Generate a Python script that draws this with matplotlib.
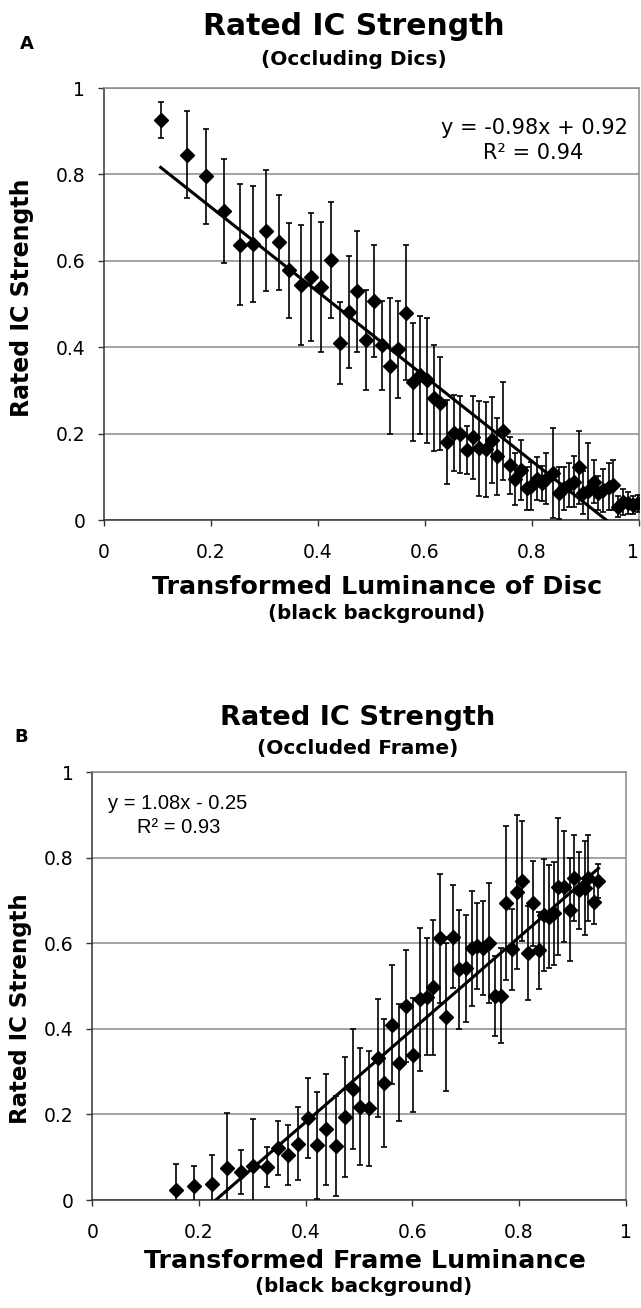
import numpy as np
import matplotlib
matplotlib.use("Agg")
import matplotlib.pyplot as plt

# panel A: occluding discs
xA = [0.106, 0.155, 0.191, 0.224, 0.254, 0.279, 0.303, 0.327, 0.346, 0.368,
      0.386, 0.405, 0.424, 0.442, 0.458, 0.473, 0.490, 0.505, 0.520, 0.535,
      0.550, 0.564, 0.577, 0.591, 0.604, 0.617, 0.628, 0.642, 0.655, 0.665,
      0.678, 0.690, 0.701, 0.714, 0.725, 0.735, 0.746, 0.758, 0.768, 0.779,
      0.790, 0.799, 0.809, 0.818, 0.827, 0.839, 0.850, 0.860, 0.870, 0.879,
      0.887, 0.896, 0.905, 0.915, 0.924, 0.933, 0.943, 0.951, 0.961, 0.971,
      0.980, 0.989, 0.999]
yA = [0.926, 0.846, 0.796, 0.716, 0.637, 0.639, 0.670, 0.643, 0.578, 0.544,
      0.562, 0.539, 0.602, 0.409, 0.481, 0.529, 0.417, 0.507, 0.405, 0.357,
      0.395, 0.480, 0.319, 0.336, 0.323, 0.282, 0.270, 0.181, 0.201, 0.198,
      0.162, 0.191, 0.166, 0.164, 0.185, 0.147, 0.206, 0.127, 0.094, 0.116,
      0.073, 0.079, 0.096, 0.085, 0.096, 0.108, 0.062, 0.073, 0.081, 0.089,
      0.122, 0.063, 0.068, 0.089, 0.062, 0.069, 0.077, 0.081, 0.031, 0.042,
      0.039, 0.035, 0.039]
eA = [0.042, 0.100, 0.110, 0.120, 0.140, 0.135, 0.140, 0.110, 0.110, 0.140,
      0.148, 0.150, 0.135, 0.095, 0.130, 0.140, 0.115, 0.130, 0.103, 0.158,
      0.113, 0.157, 0.136, 0.136, 0.144, 0.123, 0.107, 0.097, 0.088, 0.090,
      0.056, 0.096, 0.110, 0.110, 0.100, 0.090, 0.113, 0.066, 0.060, 0.070,
      0.050, 0.055, 0.050, 0.040, 0.060, 0.104, 0.060, 0.050, 0.050, 0.060,
      0.084, 0.050, 0.110, 0.050, 0.040, 0.050, 0.055, 0.058, 0.025, 0.030,
      0.025, 0.020, 0.020]

# panel B: occluded frame
xB = [0.156, 0.191, 0.224, 0.252, 0.279, 0.302, 0.327, 0.348, 0.367, 0.386,
      0.405, 0.422, 0.439, 0.457, 0.474, 0.489, 0.502, 0.519, 0.535, 0.547,
      0.561, 0.575, 0.589, 0.601, 0.614, 0.627, 0.639, 0.651, 0.664, 0.677,
      0.687, 0.700, 0.711, 0.722, 0.733, 0.743, 0.755, 0.766, 0.776, 0.787,
      0.796, 0.806, 0.817, 0.826, 0.837, 0.846, 0.856, 0.865, 0.874, 0.885,
      0.895, 0.904, 0.913, 0.923, 0.930, 0.940, 0.949]
yB = [0.023, 0.033, 0.037, 0.074, 0.066, 0.079, 0.078, 0.122, 0.105, 0.132,
      0.191, 0.128, 0.165, 0.126, 0.193, 0.259, 0.218, 0.214, 0.331, 0.273,
      0.410, 0.321, 0.453, 0.339, 0.469, 0.475, 0.497, 0.611, 0.428, 0.615,
      0.539, 0.541, 0.588, 0.593, 0.588, 0.600, 0.477, 0.477, 0.693, 0.586,
      0.720, 0.745, 0.578, 0.693, 0.584, 0.666, 0.662, 0.670, 0.732, 0.732,
      0.678, 0.752, 0.724, 0.728, 0.752, 0.696, 0.745]
eB = [0.060, 0.047, 0.067, 0.130, 0.051, 0.110, 0.047, 0.063, 0.070, 0.086,
      0.094, 0.125, 0.130, 0.117, 0.140, 0.140, 0.136, 0.135, 0.138, 0.150,
      0.138, 0.136, 0.131, 0.133, 0.167, 0.136, 0.158, 0.150, 0.173, 0.120,
      0.139, 0.126, 0.135, 0.100, 0.110, 0.140, 0.093, 0.111, 0.180, 0.095,
      0.180, 0.140, 0.110, 0.100, 0.090, 0.130, 0.120, 0.120, 0.160, 0.130,
      0.120, 0.100, 0.090, 0.110, 0.100, 0.050, 0.040]

fitA = (-0.98, 0.92)
fitB = (1.08, -0.25)
ticks = [0, 0.2, 0.4, 0.6, 0.8, 1]
tick_labels = ["0", "0.2", "0.4", "0.6", "0.8", "1"]

W, H = 641, 1308
fig = plt.figure(figsize=(W / 100, H / 100), dpi=100)


def px(x, y):
    return x / W, 1 - y / H


def setup(ax):
    ax.set_xlim(0, 1)
    ax.set_ylim(0, 1)
    ax.set_xticks(ticks)
    ax.set_xticklabels(tick_labels)
    ax.set_yticks(ticks)
    ax.set_yticklabels(tick_labels)
    ax.yaxis.grid(True, color="#8a8a8a", lw=1.1)
    ax.set_axisbelow(True)
    for s in ["top", "right"]:
        ax.spines[s].set_color("#8a8a8a")
        ax.spines[s].set_linewidth(1.1)
    for s in ["left", "bottom"]:
        ax.spines[s].set_color("#333333")
        ax.spines[s].set_linewidth(1.1)
    ax.tick_params(axis="both", direction="out", length=4.5, width=1,
                   color="#333333", labelsize=13.5, pad=9)
    ax.tick_params(axis="x", pad=12)


def draw(ax, x, y, e, fit):
    x = np.array(x)
    ax.errorbar(x, y, yerr=e, fmt="D", color="black", ms=7.5, ecolor="black",
                elinewidth=1.2, capsize=2.4, capthick=1.2, zorder=3)
    xs = np.array([x.min(), x.max()])
    ax.plot(xs, fit[0] * xs + fit[1], color="black", lw=2.2, zorder=4)


axA = fig.add_axes([104 / W, 1 - 520 / H, 535 / W, 432 / H])
setup(axA)
draw(axA, xA, yA, eA, fitA)
# the last x label sits at the figure edge
axA.get_xticklabels()[-1].set_horizontalalignment("right")

axB = fig.add_axes([92.3 / W, 1 - 1200 / H, 533.4 / W, 428 / H])
setup(axB)
draw(axB, xB, yB, eB, fitB)

bold = dict(fontweight="bold", color="black")

# panel A texts
fig.text(*px(20, 49), "A", fontsize=13, **bold)
fig.text(*px(354, 35), "Rated IC Strength", fontsize=21.5, ha="center", **bold)
fig.text(*px(354, 65), "(Occluding Dics)", fontsize=14.5, ha="center", **bold)
fig.text(*px(22, 298), "Rated IC Strength", fontsize=17, rotation=90,
         ha="center", va="center", **bold)
fig.text(*px(377, 594), "Transformed Luminance of Disc", fontsize=18.3,
         ha="center", **bold)
fig.text(*px(377, 619), "(black background)", fontsize=14.3, ha="center", **bold)
fig.text(*px(534, 134), "y = -0.98x + 0.92", fontsize=15, ha="center")
fig.text(*px(533, 159), "R\u00b2 = 0.94", fontsize=15, ha="center")

# panel B texts
fig.text(*px(14, 742), "B", fontsize=13, **bold)
fig.text(*px(358, 725), "Rated IC Strength", fontsize=19.6, ha="center", **bold)
fig.text(*px(358, 754), "(Occluded Frame)", fontsize=14.5, ha="center", **bold)
fig.text(*px(21, 1009), "Rated IC Strength", fontsize=16.5, rotation=90,
         ha="center", va="center", **bold)
fig.text(*px(365, 1268), "Transformed Frame Luminance", fontsize=18.3,
         ha="center", **bold)
fig.text(*px(364, 1292), "(black background)", fontsize=14.3, ha="center", **bold)
fig.text(*px(108, 809), "y = 1.08x - 0.25", fontsize=14.5,
         family="Liberation Sans")
fig.text(*px(137, 833), "R\u00b2 = 0.93", fontsize=14.5,
         family="Liberation Sans")

fig.savefig("out.png", dpi=100, facecolor="white")
